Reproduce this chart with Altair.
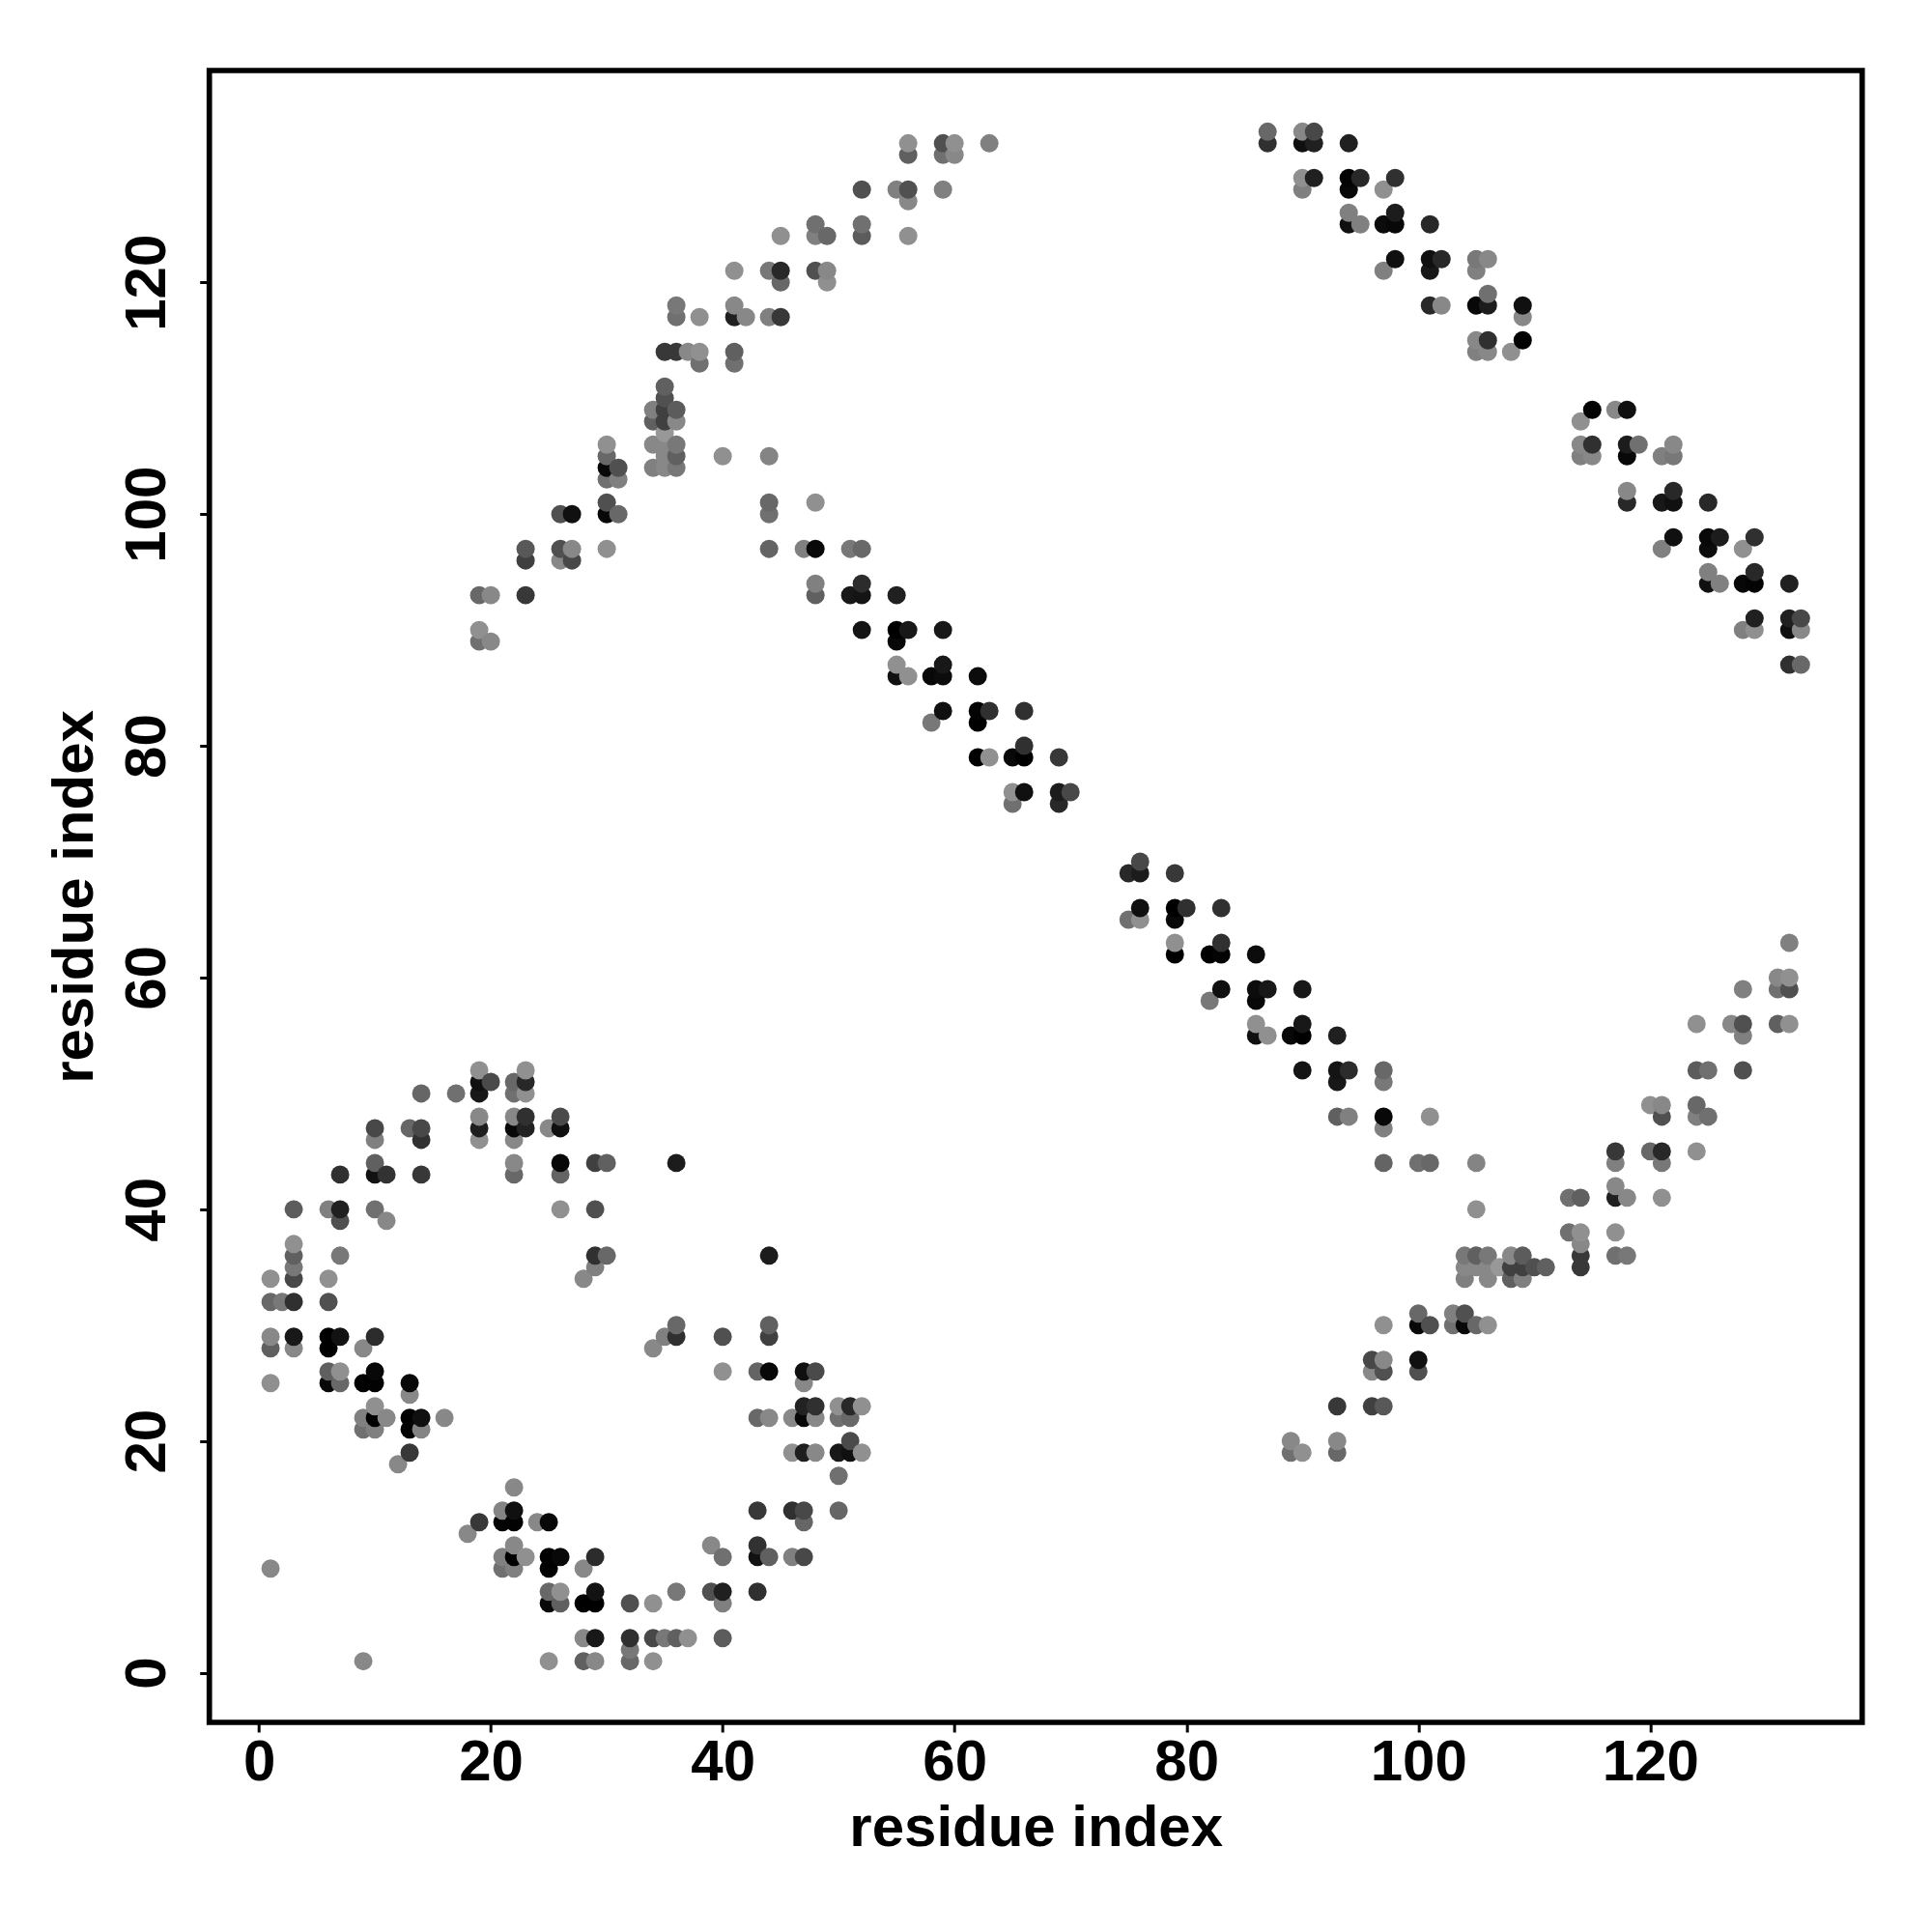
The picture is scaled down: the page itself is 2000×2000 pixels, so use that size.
import altair as alt
import pandas as pd

# Contacts as (i, j, grey level) with i < j; the map is symmetric about its diagonal.
loop_contacts = [
    (1,9,0x88),(1,25,0x90),(1,28,0x60),(1,29,0x88),(1,32,0x68),(1,34,0x90),
    (2,32,0x78),
    (3,28,0x88),(3,29,0x18),(3,32,0x30),(3,34,0x48),(3,35,0x78),(3,36,0x60),(3,37,0x90),(3,40,0x5c),
    (6,25,0x08),(6,26,0x60),(6,28,0x00),(6,29,0x00),(6,32,0x50),(6,34,0x90),(6,40,0x80),
    (7,25,0x68),(7,26,0x90),(7,29,0x12),(7,36,0x78),(7,39,0x50),(7,40,0x20),(7,43,0x30),
    (9,21,0x70),(9,22,0x80),(9,25,0x02),(9,28,0x88),
    (10,21,0x80),(10,22,0x00),(10,23,0x90),(10,25,0x02),(10,26,0x08),(10,29,0x2c),
    (10,40,0x70),(10,43,0x12),(10,44,0x60),(10,46,0x80),(10,47,0x48),
    (11,22,0x88),(11,39,0x88),(11,43,0x32),
    (12,18,0x88),
    (13,19,0x38),(13,21,0x04),(13,22,0x02),(13,24,0x88),(13,25,0x08),(13,47,0x66),
    (14,21,0x84),(14,22,0x10),(14,43,0x38),(14,46,0x30),(14,47,0x48),(14,50,0x66),
    (16,22,0x88),
    (17,50,0x70),
    (19,46,0x90),(19,47,0x1e),(19,48,0x88),(19,50,0x18),(19,51,0x10),(19,52,0x90),
    (20,51,0x4a),
    (22,43,0x68),(22,44,0x88),(22,46,0x88),(22,47,0x08),(22,48,0x88),(22,50,0x70),(22,51,0x68),
    (23,47,0x22),(23,48,0x30),(23,50,0x90),(23,51,0x28),(23,52,0x90),
    (25,47,0x88),
    (26,40,0x90),(26,43,0x64),(26,44,0x08),(26,47,0x10),(26,48,0x4a),
    (28,34,0x88),(29,35,0x80),(29,36,0x30),(30,36,0x68),
    (29,40,0x50),(29,44,0x40),(30,44,0x60),(36,44,0x1c),
]

upper_band_contacts = [
    (19,89,0x70),(19,90,0x90),(19,93,0x68),(20,89,0x88),(20,93,0x88),
    (23,93,0x38),(23,96,0x40),(23,97,0x58),
    (26,96,0x88),(26,97,0x50),(26,100,0x50),(27,96,0x48),(27,97,0x88),(27,100,0x10),
    (30,97,0x90),(30,100,0x08),(30,101,0x50),(30,103,0x70),(30,104,0x08),(30,105,0x68),(30,106,0x90),
    (31,100,0x68),(31,103,0x80),(31,104,0x50),
    (34,104,0x80),(34,106,0x88),(34,108,0x60),(34,109,0x80),
    (35,104,0x88),(35,105,0x88),(35,106,0x88),(35,107,0x98),(35,108,0x40),(35,109,0x40),
    (35,110,0x50),(35,111,0x60),(35,114,0x38),
    (36,104,0x78),(36,105,0x60),(36,106,0x78),(36,108,0x88),(36,109,0x5c),(36,114,0x38),
    (36,117,0x70),(36,118,0x78),
    (37,114,0x88),(38,113,0x70),(38,114,0x90),(38,117,0x90),
    (41,113,0x70),(41,114,0x60),(41,117,0x20),(41,118,0x88),(41,121,0x90),(42,117,0x88),
    (44,117,0x80),(44,121,0x78),(45,117,0x38),(45,120,0x68),(45,121,0x28),(45,124,0x90),
    (48,121,0x50),(48,124,0x80),(48,125,0x70),(49,120,0x90),(49,121,0x88),(49,124,0x68),
    (52,124,0x5c),(52,125,0x70),(52,128,0x50),
    (55,128,0x80),(56,124,0x90),(56,127,0x88),(56,128,0x50),(56,131,0x60),(56,132,0x90),
    (59,128,0x80),(59,131,0x70),(59,132,0x50),(60,131,0x88),(60,132,0x90),(63,132,0x80),
]

central_band_contacts = [
    (40,105,0x90),(44,97,0x64),(44,100,0x70),(44,101,0x68),(44,105,0x84),
    (47,97,0x80),(48,93,0x60),(48,94,0x80),(48,97,0x08),(48,101,0x90),
    (51,93,0x18),(51,97,0x78),(52,90,0x14),(52,93,0x14),(52,94,0x2c),(52,97,0x68),
    (55,86,0x10),(55,87,0x90),(55,89,0x08),(55,90,0x00),(55,93,0x20),(56,86,0x90),(56,90,0x18),
    (58,82,0x78),(58,86,0x08),(59,83,0x10),(59,86,0x0c),(59,87,0x18),(59,90,0x18),
    (62,79,0x00),(62,82,0x00),(62,83,0x04),(62,86,0x0c),(63,79,0x90),(63,83,0x30),
    (65,75,0x70),(65,76,0x90),(65,79,0x08),(66,76,0x10),(66,79,0x00),(66,80,0x30),(66,83,0x30),
    (69,75,0x28),(69,76,0x1c),(69,79,0x38),(70,76,0x48),
]

corner_band_contacts = [
    (87,132,0x30),(87,133,0x68),(90,128,0x80),(90,129,0x90),(90,132,0x10),(90,133,0x88),
    (91,129,0x20),(91,132,0x20),(91,133,0x48),
    (94,125,0x10),(94,126,0x80),(94,128,0x08),(94,129,0x04),(94,132,0x20),
    (95,125,0x80),(95,129,0x28),
    (97,121,0x80),(97,125,0x0c),(97,128,0x90),(98,122,0x10),(98,125,0x08),(98,126,0x1c),(98,129,0x30),
    (101,118,0x28),(101,121,0x18),(101,122,0x10),(101,125,0x28),(102,118,0x88),(102,122,0x28),
    (105,114,0x80),(105,115,0x88),(105,118,0x08),(105,121,0x80),(105,122,0x78),
    (106,114,0x88),(106,115,0x30),(106,118,0x1c),(106,119,0x70),(106,122,0x88),
    (108,114,0x90),(109,115,0x02),(109,117,0x88),(109,118,0x10),
]

tick_values = [0, 20, 40, 60, 80, 100, 120]
axis_label = "residue index"
domain = [-4.28, 138.28]
WIDTH, HEIGHT = 1711, 1710

half = loop_contacts + upper_band_contacts + central_band_contacts + corner_band_contacts
rows = []
for i, j, level in half:
    colour = "#{0:02x}{0:02x}{0:02x}".format(level)
    rows.append({"x": i, "y": j, "colour": colour})
    rows.append({"x": j, "y": i, "colour": colour})
df = pd.DataFrame(rows).sort_values(["x", "y"]).reset_index(drop=True)

FONT = "Liberation Sans"


def axis(**kw):
    return alt.Axis(
        values=tick_values, grid=False, domain=False, title=axis_label,
        tickColor="black", tickWidth=3, tickSize=10,
        labelFont=FONT, labelFontWeight="bold", labelFontSize=60, labelColor="black",
        titleFont=FONT, titleFontWeight="bold", titleFontSize=60, titleColor="black",
        labelOverlap=False, **kw)


points = alt.Chart(df).mark_circle(size=360, opacity=1).encode(
    x=alt.X("x:Q", scale=alt.Scale(domain=domain, nice=False, zero=False),
            axis=axis(labelPadding=3, titlePadding=9)),
    y=alt.Y("y:Q", scale=alt.Scale(domain=domain, nice=False, zero=False),
            axis=axis(labelAngle=270, labelAlign="center", labelBaseline="bottom",
                      labelPadding=23, titlePadding=14)),
    color=alt.Color("colour:N", scale=None),
)

frame = alt.Chart(pd.DataFrame({"box": [0]})).mark_rect(
    filled=False, stroke="black", strokeWidth=5.7
).encode(
    x=alt.value(0), x2=alt.value(WIDTH), y=alt.value(0), y2=alt.value(HEIGHT),
)

chart = alt.layer(points, frame).properties(
    width=WIDTH, height=HEIGHT, background="white",
    autosize="none",
    padding={"left": 208.7, "top": 65, "right": 64, "bottom": 200},
).configure_view(stroke=None)

chart.save("out.html", embed_options={"renderer": "svg", "actions": False})
